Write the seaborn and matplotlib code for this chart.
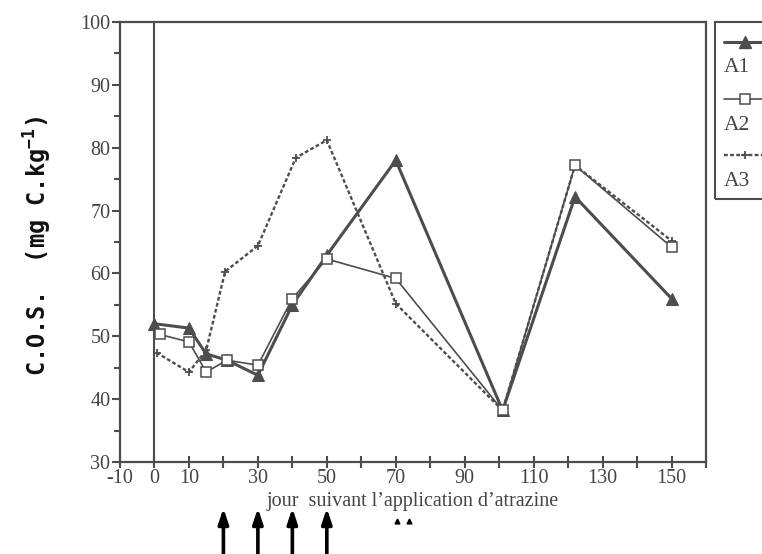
import matplotlib
matplotlib.use("Agg")
import matplotlib.pyplot as plt
from matplotlib.lines import Line2D
from matplotlib.patches import Rectangle
from matplotlib.ticker import MultipleLocator
import seaborn as sns

# Soluble organic carbon after atrazine application (three plots)
days_a1 = [0, 10, 15, 21, 30, 40, 50, 70, 101, 122, 150]
cos_a1 = [52, 51.3, 47.2, 46.2, 43.8, 55.0, 62.9, 78.0, 38.2, 72.2, 56.0]

days_a2 = [1.5, 10, 15, 21, 30, 40, 50, 70, 101, 122, 150]
cos_a2 = [50.3, 49.1, 44.3, 46.2, 45.4, 56.0, 62.3, 59.2, 38.2, 77.2, 64.2]

days_a3 = [0.6, 10, 15, 20.5, 30, 41, 50, 70, 101, 122, 150]
cos_a3 = [47.4, 44.3, 47.8, 60.3, 64.4, 78.4, 81.2, 55.2, 38.2, 77.2, 65.2]

application_days = [20, 30, 40, 50]

x_ticks = list(range(-10, 170, 10))
x_tick_labels = ["-10", "0", "10", "", "30", "", "50", "", "70", "", "90", "",
                 "110", "", "130", "", "150", ""]
series_names = ["A1", "A2", "A3"]

sns.set_style("ticks")
plt.rcParams["font.family"] = ["Liberation Serif", "DejaVu Serif"]
plt.rcParams["mathtext.default"] = "regular"

W, H = 762, 554
gray = "#4d4d4d"
fig = plt.figure(figsize=(W / 100, H / 100), dpi=100)
ax = fig.add_axes([120 / W, 92 / H, 586 / W, 440 / H])

ax.axvline(0, color=gray, lw=1.5, zorder=1)

sns.lineplot(x=days_a3, y=cos_a3, ax=ax, color=gray, lw=1.7,
             linestyle=(0, (1.6, 1.0)), marker="+", markersize=6, mew=1.3,
             mec=gray, sort=False, estimator=None, zorder=3)
sns.lineplot(x=days_a1, y=cos_a1, ax=ax, color=gray, lw=2.2, marker="^",
             markersize=9, mfc=gray, mec=gray, sort=False, estimator=None,
             zorder=4)
sns.lineplot(x=days_a2, y=cos_a2, ax=ax, color=gray, lw=1.2, marker="s",
             markersize=6.5, mfc="white", mec=gray, mew=1.1, sort=False,
             estimator=None, zorder=5)

ax.set_xlim(-10, 160)
ax.set_ylim(30, 100)
ax.set_xticks(x_ticks)
ax.set_xticklabels(x_tick_labels)
ax.yaxis.set_major_locator(MultipleLocator(10))
ax.yaxis.set_minor_locator(MultipleLocator(5))

for side in ["left", "right", "top", "bottom"]:
    ax.spines[side].set_visible(True)
    ax.spines[side].set_color(gray)
    ax.spines[side].set_linewidth(1.6)

ax.tick_params(axis="x", direction="inout", length=8, width=1.5, color=gray,
               labelsize=14.5, labelcolor="#444444", pad=1)
ax.tick_params(axis="y", which="major", direction="out", length=6, width=1.5,
               color=gray, labelsize=14.5, labelcolor="#444444", pad=1)
ax.tick_params(axis="y", which="minor", direction="out", length=4, width=1.5,
               color=gray)

ax.set_xlabel("jour  suivant l\u2019application d\u2019atrazine", fontsize=14.5,
              color="#444444", labelpad=3)
ax.set_ylabel("")
fig.text(38 / W, 1 - 246 / H, "C.O.S.  (mg C.kg$^{-1}$)", rotation=90,
         ha="center", va="center", fontsize=17, fontweight="bold",
         family=["DejaVu Sans Mono"], color="#111111")

# application arrows under the axis
trans = ax.get_xaxis_transform()
for d in application_days:
    ax.annotate("", xy=(d, -0.105), xytext=(d, -0.215), xycoords=trans,
                textcoords=trans, annotation_clip=False,
                arrowprops=dict(arrowstyle="-|>,head_length=0.9,head_width=0.3",
                                color="black", lw=2.6, shrinkA=0, shrinkB=0))
ax.plot([70.5, 73.7], [-0.135, -0.135], transform=trans, ls="none",
        marker="^", ms=3.5, color="black", clip_on=False)

# legend box, running off the right edge
def fx(px):
    return px / W


def fy(py):
    return 1 - py / H


fig.add_artist(Rectangle((fx(715), fy(199)), fx(80), fy(22) - fy(199),
                         transform=fig.transFigure, fill=False, ec=gray,
                         lw=1.5, clip_on=False))
handles = [
    dict(ls="-", lw=2.2, marker="^", ms=9, mfc=gray, mew=1),
    dict(ls="-", lw=1.2, marker="s", ms=6.5, mfc="white", mew=1.1),
    dict(ls=(0, (1.6, 1.0)), lw=1.7, marker="+", ms=6, mfc=gray, mew=1.3),
]
for i, (name, h) in enumerate(zip(series_names, handles)):
    yl = 42 + i * 56.5
    yt = 68 + i * 57
    fig.add_artist(Line2D([fx(724), fx(775)], [fy(yl), fy(yl)],
                          transform=fig.transFigure, color=gray,
                          ls=h["ls"], lw=h["lw"]))
    fig.add_artist(Line2D([fx(745)], [fy(yl)], transform=fig.transFigure,
                          ls="none", marker=h["marker"], ms=h["ms"],
                          mfc=h["mfc"], mec=gray, mew=h["mew"]))
    fig.text(fx(724), fy(yt), name, ha="left", va="center", fontsize=15.5,
             color="#444444")

fig.savefig("out.png", dpi=100)
